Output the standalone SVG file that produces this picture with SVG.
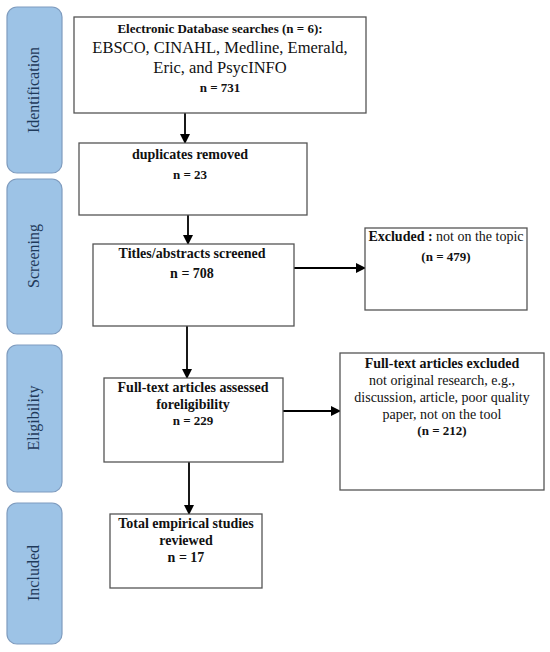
<svg xmlns="http://www.w3.org/2000/svg" width="550" height="652" viewBox="0 0 550 652">
<style>
.bar{fill:#9dc3e6;stroke:#7f9cbf;stroke-width:1.2}
.lbl{font-family:"Liberation Serif",serif;font-size:16px;fill:#1f3a5a;text-anchor:middle}
.box{fill:#fff;stroke:#555;stroke-width:1.3}
.t{font-family:"Liberation Serif",serif;font-size:14px;fill:#111;text-anchor:middle}
.b{font-weight:bold}
.s{font-size:13px}
.big{font-size:16.5px}
.c{stroke:#000;stroke-width:1.8;fill:none}
</style>
<defs>
<marker id="ah" markerWidth="10" markerHeight="10" refX="9" refY="5" orient="auto" markerUnits="userSpaceOnUse">
<path d="M0,0 L10,5 L0,10 z" fill="#000"/>
</marker>
</defs>
<rect width="550" height="652" fill="#fff"/>
<g id="phase-identification">
<rect class="bar" x="7" y="7" width="55" height="166" rx="10"/>
<text class="lbl" transform="translate(39,90) rotate(-90)">Identification</text>
</g>
<g id="phase-screening">
<rect class="bar" x="7" y="179" width="55" height="155" rx="10"/>
<text class="lbl" transform="translate(39,256) rotate(-90)">Screening</text>
</g>
<g id="phase-eligibility">
<rect class="bar" x="7" y="345" width="55" height="147" rx="10"/>
<text class="lbl" transform="translate(39,418) rotate(-90)">Eligibility</text>
</g>
<g id="phase-included">
<rect class="bar" x="7" y="503" width="55" height="141" rx="10"/>
<text class="lbl" transform="translate(39,573) rotate(-90)">Included</text>
</g>
<g id="connectors">
<line class="c" x1="185" y1="113" x2="185" y2="143" marker-end="url(#ah)"/>
<line class="c" x1="188" y1="215" x2="188" y2="244" marker-end="url(#ah)"/>
<line class="c" x1="187" y1="326" x2="187" y2="378" marker-end="url(#ah)"/>
<line class="c" x1="189" y1="462" x2="189" y2="514" marker-end="url(#ah)"/>
<line class="c" x1="294" y1="268" x2="365" y2="268" marker-end="url(#ah)"/>
<line class="c" x1="283" y1="411" x2="340" y2="411" marker-end="url(#ah)"/>
</g>
<g id="node-search">
<rect class="box" x="74" y="17" width="292" height="96"/>
<text class="t b s" x="220" y="33">Electronic Database searches (n = 6):</text>
<text class="t big" x="220" y="53">EBSCO, CINAHL, Medline, Emerald,</text>
<text class="t big" x="220" y="73">Eric, and PsycINFO</text>
<text class="t b s" x="220" y="92">n = 731</text>
</g>
<g id="node-duplicates">
<rect class="box" x="79" y="143" width="228" height="72"/>
<text class="t b" x="190" y="159">duplicates removed</text>
<text class="t b s" x="190" y="179">n = 23</text>
</g>
<g id="node-screened">
<rect class="box" x="93" y="244" width="201" height="82"/>
<text class="t b" x="192" y="258">Titles/abstracts screened</text>
<text class="t b" x="192" y="278">n = 708</text>
</g>
<g id="node-excluded1">
<rect class="box" x="365" y="228" width="162" height="82"/>
<text class="t" x="446" y="241"><tspan class="b">Excluded :</tspan> not on the topic</text>
<text class="t b s" x="446" y="261">(n = 479)</text>
</g>
<g id="node-fulltext">
<rect class="box" x="104" y="378" width="179" height="84"/>
<text class="t b" x="193" y="392">Full-text articles assessed</text>
<text class="t b" x="193" y="409">foreligibility</text>
<text class="t b s" x="193" y="425">n = 229</text>
</g>
<g id="node-excluded2">
<rect class="box" x="340" y="353" width="204" height="137"/>
<text class="t b" x="442" y="368">Full-text articles excluded</text>
<text class="t" x="442" y="385">not original research, e.g.,</text>
<text class="t" x="442" y="402">discussion, article, poor quality</text>
<text class="t" x="442" y="419">paper, not on the tool</text>
<text class="t b s" x="442" y="435">(n = 212)</text>
</g>
<g id="node-included">
<rect class="box" x="110" y="514" width="152" height="74"/>
<text class="t b" x="186" y="528">Total empirical studies</text>
<text class="t b" x="186" y="545">reviewed</text>
<text class="t b" x="186" y="562">n = 17</text>
</g>
</svg>
